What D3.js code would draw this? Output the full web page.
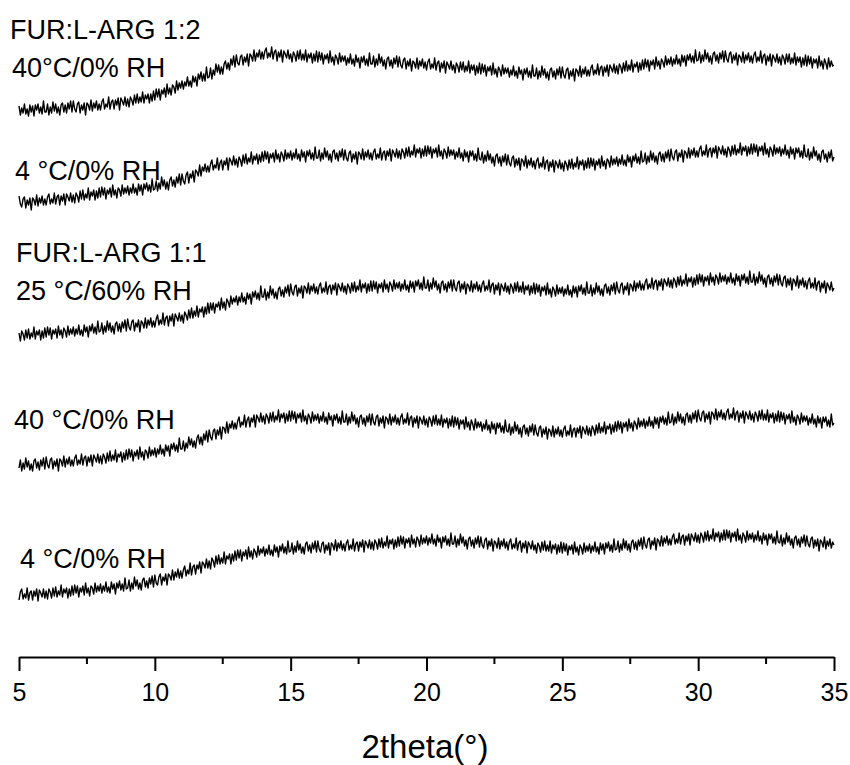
<!DOCTYPE html>
<html>
<head>
<meta charset="utf-8">
<script src="https://cdn.jsdelivr.net/npm/d3@7"></script>
<style>
  body { margin: 0; background: #fff; }
  text { font-family: Arial, "Liberation Sans", sans-serif; fill: #000; }
</style>
</head>
<body>
<div id="chart"></div>
<script>
// scans run 5 -> 35 deg 2theta, one row per degree (step 0.05)
const thetaStart = 5, thetaEnd = 35;

// intensities (a.u.), one array per pattern
const fur12_40C = [
  61,52,59,54,63,53,58,51,62,55,61,51,62,57,63,54,60,53,66,55,
  55,63,52,60,54,65,56,63,54,60,52,62,64,55,62,54,64,58,66,55,
  66,58,55,63,65,54,62,57,64,52,64,62,57,67,56,64,59,66,57,63,
  57,65,68,58,63,60,70,58,65,67,58,67,62,69,57,69,66,62,70,61,
  68,60,70,67,62,72,64,73,64,70,65,75,64,72,68,73,64,73,66,76,
  67,78,70,78,67,77,73,79,70,83,73,79,72,82,80,74,86,77,84,79,
  86,78,85,81,90,81,86,80,91,85,90,81,93,88,95,86,93,86,100,89,
  90,99,88,97,92,103,95,102,93,100,93,103,106,98,104,97,108,102,111,100,
  112,104,102,110,112,102,110,105,113,101,113,111,106,117,106,114,110,117,108,115,
  108,116,119,109,114,110,120,108,115,117,106,115,110,117,105,116,113,109,117,108,
  113,105,115,112,106,116,108,117,107,113,107,117,105,113,109,114,104,113,106,116,
  105,115,107,114,103,112,108,113,104,116,105,110,102,112,109,103,114,105,111,106,
  111,102,109,104,113,103,108,101,112,105,109,99,110,105,111,102,108,101,114,103,
  103,111,100,108,102,113,104,110,101,107,98,108,110,101,107,99,109,103,111,100,
  110,102,99,107,109,98,106,101,108,96,106,104,99,109,98,106,101,108,99,105,
  97,105,108,98,103,99,109,97,104,106,95,104,99,106,94,105,102,98,106,97,
  102,94,104,101,95,105,97,105,95,101,96,106,94,102,97,102,92,101,94,104,
  93,103,95,102,91,100,96,101,92,104,93,98,90,100,97,91,102,93,99,94,
  99,90,97,92,101,91,96,89,100,93,97,87,98,93,99,90,96,89,102,91,
  91,99,88,96,90,101,92,98,89,95,87,97,99,90,96,88,98,92,100,89,
  100,92,89,97,99,88,96,91,98,86,98,96,91,101,90,98,93,100,91,97,
  91,99,102,92,97,93,103,92,99,101,91,100,95,102,91,102,99,95,103,94,
  101,93,103,100,94,104,96,106,96,102,97,107,95,103,100,105,95,104,97,107,
  98,108,100,107,96,106,102,107,98,110,101,106,98,108,105,100,111,102,108,103,
  110,101,108,103,112,103,108,101,112,105,111,101,112,107,113,105,111,104,117,106,
  107,115,104,112,106,117,108,114,105,111,103,113,115,106,112,104,114,108,116,105,
  116,108,105,113,115,104,112,107,114,102,112,110,105,115,104,112,107,114,105,111,
  104,112,115,105,110,106,116,104,111,113,102,111,106,113,101,112,109,105,113,104,
  110,102,112,109,103,113,105,113,103,109,104,114,102,110,105,110,100,109,102,112,
  101,111,103,110,99,108,104,108,99,111,101,106,98,108,104,98,109,100,106,101,
  102
];
const fur12_4C = [
  71,63,60,68,70,59,67,62,69,57,69,67,62,72,61,69,64,71,62,68,
  62,70,73,63,68,64,74,63,70,72,62,71,66,73,62,73,70,66,74,65,
  72,64,74,71,65,76,68,77,67,73,69,79,67,75,71,77,67,76,69,79,
  70,80,72,79,68,77,73,79,70,82,72,77,69,79,77,71,82,73,79,74,
  81,72,79,74,83,74,79,72,83,76,82,72,83,78,84,76,82,75,88,77,
  78,86,76,84,78,90,81,87,78,85,77,87,90,81,87,80,90,84,93,82,
  93,86,83,92,95,84,93,89,96,85,97,95,91,102,91,100,96,103,95,101,
  95,103,107,97,102,99,109,97,104,107,97,106,102,109,97,109,106,102,111,102,
  108,100,110,107,101,112,104,113,103,109,105,115,103,111,107,113,103,112,105,115,
  106,116,108,115,104,113,109,114,105,117,108,113,105,115,112,106,117,108,114,109,
  116,107,114,109,118,108,113,106,117,110,115,105,116,111,117,108,114,107,120,109,
  109,117,106,114,108,119,110,116,107,113,105,115,117,108,114,106,116,110,118,107,
  117,109,106,114,116,105,113,108,115,103,115,113,108,118,107,115,110,117,108,114,
  107,115,118,108,113,109,119,107,114,116,107,116,111,118,106,117,114,110,118,109,
  116,108,118,115,109,119,111,120,110,116,112,122,110,118,114,119,109,118,111,121,
  111,121,113,120,109,118,114,119,110,122,111,116,108,118,115,109,120,111,117,112,
  117,108,115,110,119,109,114,106,117,110,115,105,116,111,116,107,113,106,119,108,
  107,115,104,112,106,116,107,113,104,110,101,111,113,104,110,101,111,105,113,102,
  112,104,101,109,111,100,108,102,109,97,108,106,101,111,99,107,102,109,100,106,
  98,106,109,99,104,100,110,98,105,107,96,105,100,107,95,106,103,99,107,98,
  104,96,106,103,97,107,99,108,98,104,100,110,98,106,102,107,97,106,99,109,
  99,109,101,108,97,106,102,108,99,111,101,106,98,108,106,100,111,102,108,103,
  110,101,108,103,112,102,107,101,112,105,110,100,111,106,113,104,110,103,116,105,
  106,114,103,111,105,116,107,114,105,111,103,113,115,106,113,105,115,109,117,106,
  118,110,107,115,117,106,114,110,117,105,116,114,109,119,109,117,112,119,110,116,
  110,118,121,111,116,112,122,110,117,119,110,119,114,121,109,120,117,113,121,112,
  118,110,120,117,111,121,113,122,112,118,114,124,112,120,116,121,111,120,113,123,
  113,123,115,122,111,120,116,121,112,124,113,118,110,120,117,111,122,113,119,114,
  120,111,118,113,122,112,117,109,120,113,118,108,119,114,119,110,116,109,122,111,
  110,118,107,115,109,120,111,116,107,113,105,115,117,108,113,105,115,109,117,106,
  110
];
const fur11_25C = [
  64,56,66,63,57,67,59,68,58,64,60,70,58,66,62,67,57,66,59,69,
  60,70,62,69,58,67,63,68,59,71,62,67,59,69,66,60,71,62,68,63,
  70,61,68,63,72,62,67,61,72,65,70,60,71,66,73,64,70,63,76,65,
  66,74,63,71,65,76,67,74,65,71,63,73,75,66,73,65,75,69,77,66,
  78,70,67,75,77,66,74,70,77,65,76,74,69,79,69,77,72,79,70,76,
  70,78,82,72,77,73,84,72,79,81,71,81,76,83,71,83,80,76,84,76,
  82,74,85,82,77,87,79,89,79,86,81,91,80,88,85,90,80,90,83,94,
  84,94,87,94,84,93,90,95,87,99,89,95,87,98,95,90,101,93,99,95,
  101,92,100,95,104,95,100,93,104,98,103,93,105,100,106,98,104,97,111,100,
  100,108,97,105,99,111,102,108,99,105,98,108,110,101,107,100,110,104,112,101,
  113,105,102,110,112,101,109,104,111,99,111,109,104,114,103,111,106,113,104,110,
  103,111,114,104,109,105,115,103,110,112,103,112,107,114,102,113,110,106,114,105,
  111,103,113,110,104,114,106,115,105,111,107,117,105,113,109,114,104,113,106,116,
  106,116,108,115,104,113,109,114,105,117,108,113,105,115,112,106,117,108,114,109,
  115,106,113,108,117,107,112,105,116,109,115,105,116,111,117,108,114,107,120,109,
  109,117,106,114,108,119,110,116,107,113,104,114,116,107,113,105,115,109,117,106,
  117,109,106,114,116,105,113,108,115,103,113,111,106,116,105,113,108,115,106,112,
  105,113,116,106,111,107,117,105,112,114,103,112,107,114,102,113,110,106,114,105,
  111,103,113,110,104,114,106,115,105,111,105,115,103,111,107,112,102,111,104,114,
  103,113,105,112,101,110,106,111,102,114,103,108,100,110,107,101,112,103,109,104,
  110,101,108,103,112,102,107,100,111,104,110,100,111,106,112,103,109,102,115,104,
  104,112,101,109,103,114,105,111,102,108,101,111,113,104,110,102,112,106,114,103,
  115,107,104,112,114,103,111,107,114,102,113,111,106,116,106,114,109,116,107,113,
  107,115,118,108,113,109,119,108,115,117,107,116,111,118,107,118,115,111,119,110,
  117,109,119,116,110,120,112,121,111,117,113,123,111,119,115,120,110,119,112,122,
  113,123,115,122,111,120,116,121,112,124,115,120,112,122,119,113,124,115,121,116,
  122,113,120,115,124,114,119,112,123,116,121,111,122,117,123,114,120,113,126,115,
  115,123,112,120,114,125,116,122,113,119,110,120,122,113,119,111,121,115,123,112,
  122,114,111,119,121,110,118,112,119,107,118,116,111,121,109,117,112,119,110,116,
  108,116,119,109,114,109,119,107,114,116,105,114,109,116,104,114,111,107,115,106,
  109
];
const fur11_40C = [
  59,67,56,64,58,69,60,66,57,63,56,66,68,59,65,57,67,61,69,58,
  70,62,59,67,69,58,66,61,68,56,68,66,61,71,60,68,63,70,61,67,
  61,69,72,62,67,63,73,62,69,71,61,70,65,72,61,72,69,65,73,64,
  71,63,73,70,64,74,66,76,66,72,67,77,65,73,70,75,65,74,67,77,
  68,78,70,77,66,75,71,77,68,80,70,75,67,77,75,69,80,71,77,72,
  79,70,78,73,82,73,78,71,82,76,81,71,83,78,84,76,82,75,89,78,
  78,86,76,84,79,90,82,88,80,86,79,89,92,83,90,82,93,87,96,85,
  97,90,87,96,98,88,97,92,100,88,100,99,94,105,94,103,99,106,98,104,
  98,106,110,100,105,102,112,100,107,110,100,109,105,112,100,112,109,105,114,105,
  111,103,113,110,104,114,106,115,105,111,107,117,105,113,109,114,104,113,106,116,
  106,116,108,115,104,113,109,114,105,117,106,111,103,113,110,104,115,106,112,107,
  113,104,111,106,115,105,110,103,114,107,111,101,112,107,113,104,110,103,116,105,
  105,113,102,110,104,115,106,112,103,109,100,110,112,103,109,101,111,105,113,102,
  113,105,102,110,112,101,109,104,111,99,110,108,103,113,102,110,105,112,103,109,
  102,110,113,103,108,104,114,102,109,111,100,109,104,111,99,110,107,103,111,102,
  108,100,110,107,101,111,103,112,102,108,102,112,100,108,104,109,99,108,101,111,
  100,110,102,109,98,107,103,107,98,110,100,105,97,107,103,97,108,99,105,100,
  105,96,103,98,107,97,102,94,105,98,103,93,104,99,104,95,101,94,107,96,
  95,103,92,100,94,105,96,102,93,99,90,100,102,93,99,91,101,95,103,92,
  102,94,91,99,101,90,98,93,100,88,98,96,91,101,90,98,93,100,91,97,
  90,98,101,91,96,92,102,90,97,99,90,99,94,101,89,100,97,93,101,92,
  99,91,101,98,92,102,94,104,94,100,95,105,93,101,98,103,93,102,95,105,
  96,106,98,105,94,104,100,105,96,108,99,104,96,106,103,98,109,100,106,101,
  108,99,106,101,110,101,106,99,110,103,109,99,110,105,111,103,109,102,115,104,
  105,113,102,110,104,115,106,113,104,110,102,112,114,105,112,104,114,108,116,105,
  117,109,106,114,116,105,113,108,115,103,115,113,108,118,107,115,110,117,108,114,
  107,115,118,108,113,109,119,107,114,116,105,114,109,116,104,115,112,108,116,107,
  113,105,115,112,106,116,108,117,107,113,107,117,105,113,109,114,104,113,106,116,
  105,115,107,114,103,112,108,113,104,116,105,110,102,112,109,103,114,105,111,106,
  111,102,109,104,113,103,108,100,111,104,109,99,110,105,110,101,107,100,113,102,
  104
];
const fur11_4C = [
  57,65,68,58,63,59,69,57,64,66,57,66,61,68,56,67,64,60,68,59,
  66,58,68,65,59,69,61,70,60,66,62,72,60,68,64,69,59,68,61,71,
  62,72,64,71,60,69,65,71,62,74,64,69,61,71,69,63,74,65,71,66,
  73,64,71,66,75,65,70,64,75,68,73,63,74,69,76,67,73,66,79,68,
  69,77,66,74,68,80,71,77,68,74,67,77,79,70,76,69,79,73,81,70,
  82,74,72,80,83,72,80,76,83,72,83,81,77,87,77,85,80,88,79,86,
  79,87,91,81,87,83,94,82,90,92,83,92,88,95,84,95,93,89,98,89,
  96,88,99,96,90,101,93,102,93,99,94,105,93,101,98,103,93,103,96,106,
  97,107,99,107,96,105,101,107,98,110,100,106,98,108,105,100,111,102,108,104,
  110,101,108,103,112,102,107,101,112,105,110,100,111,106,113,104,110,103,116,105,
  106,114,103,111,105,116,107,113,104,110,103,113,115,106,112,104,114,108,116,105,
  116,108,105,113,115,104,112,107,114,102,114,112,107,117,106,114,109,116,107,113,
  106,114,117,107,112,108,118,106,113,115,106,115,110,117,105,116,113,109,117,108,
  115,107,117,114,108,118,110,119,109,115,111,121,109,117,113,118,108,117,110,120,
  111,121,113,120,109,118,114,119,110,122,113,118,110,120,117,111,122,113,119,114,
  121,112,119,114,123,113,118,111,122,115,119,109,120,115,121,112,118,111,124,113,
  113,121,110,118,112,123,114,120,111,117,108,118,120,111,117,109,119,113,121,110,
  120,112,109,117,119,108,116,111,118,106,116,114,109,119,108,116,111,118,109,115,
  107,115,118,108,113,109,119,107,114,116,105,114,109,116,104,115,112,108,116,107,
  112,104,114,111,105,115,107,116,106,112,106,116,104,112,108,113,103,112,105,115,
  104,114,106,113,102,111,107,112,103,115,105,110,102,112,109,103,114,105,111,106,
  113,104,111,106,115,105,110,103,114,107,113,103,114,109,115,106,112,105,118,107,
  108,116,105,113,107,118,109,116,107,113,105,115,117,108,115,107,117,111,119,108,
  120,112,109,117,119,108,116,112,119,107,118,116,111,121,111,119,114,121,112,118,
  112,120,123,113,118,114,124,113,120,122,112,121,116,123,112,123,120,116,124,115,
  122,114,124,121,115,125,117,126,116,122,118,128,116,124,120,125,115,124,117,127,
  117,127,119,126,115,124,120,125,116,128,117,122,114,124,121,115,126,117,123,118,
  124,115,122,117,126,116,121,113,124,117,122,112,123,118,123,114,120,113,126,115,
  114,122,111,119,113,124,115,121,112,118,109,119,121,112,118,110,120,114,122,111,
  121,113,110,118,120,109,117,111,118,106,117,115,110,120,108,116,111,118,109,115,
  112
];

// stacking, top to bottom
const series = [fur12_40C, fur12_4C, fur11_25C, fur11_40C, fur11_4C];
const offsets = [490, 390, 260, 130, 0];

const labels = [
  { text: "FUR:L-ARG 1:2", x: 10, y: 39 },
  { text: "40\u00B0C/0% RH", x: 12, y: 77 },
  { text: "4 \u00B0C/0% RH", x: 15, y: 180 },
  { text: "FUR:L-ARG 1:1", x: 16, y: 262 },
  { text: "25 \u00B0C/60% RH", x: 16, y: 300 },
  { text: "40 \u00B0C/0% RH", x: 14, y: 429 },
  { text: "4 \u00B0C/0% RH", x: 20, y: 568 }
];

const majorTicks = [5, 10, 15, 20, 25, 30, 35];
const minorTicks = [7.5, 12.5, 17.5, 22.5, 27.5, 32.5];

const W = 850, H = 765;
const svg = d3.select("#chart").append("svg")
    .attr("width", W)
    .attr("height", H);

const x = d3.scaleLinear().domain([thetaStart, thetaEnd]).range([19, 834]);
const y = d3.scaleLinear().domain([0, 640]).range([657, 17]);

series.forEach((s, k) => {
    const n = s.length;
    const line = d3.line()
        .x((d, i) => x(thetaStart + (thetaEnd - thetaStart) * i / (n - 1)))
        .y(d => y(d + offsets[k]));
    svg.append("path")
        .datum(s)
        .attr("fill", "none")
        .attr("stroke", "#000")
        .attr("stroke-width", 1.4)
        .attr("stroke-linejoin", "round")
        .attr("d", line);
});

// x axis
const axis = svg.append("g")
    .attr("transform", "translate(0,657)")
    .call(d3.axisBottom(x).tickValues(majorTicks).tickSize(14).tickSizeOuter(0).tickFormat(d3.format("d")));
axis.select(".domain").attr("stroke-width", 2);
axis.selectAll(".tick line").attr("stroke-width", 2);
axis.selectAll(".tick text")
    .attr("y", 44).attr("dy", null)
    .style("font-size", "25px")
    .style("font-family", "Arial, 'Liberation Sans', sans-serif");

axis.selectAll(".minor")
    .data(minorTicks)
    .enter().append("line")
    .attr("x1", d => x(d)).attr("x2", d => x(d))
    .attr("y1", 0).attr("y2", 7)
    .attr("stroke", "#000")
    .attr("stroke-width", 2);

svg.append("text")
    .attr("x", 425)
    .attr("y", 758)
    .attr("text-anchor", "middle")
    .style("font-size", "33px")
    .text("2theta(\u00B0)");

svg.selectAll(".lbl")
    .data(labels)
    .enter().append("text")
    .attr("x", d => d.x)
    .attr("y", d => d.y)
    .style("font-size", "27px")
    .text(d => d.text);
</script>
</body>
</html>
